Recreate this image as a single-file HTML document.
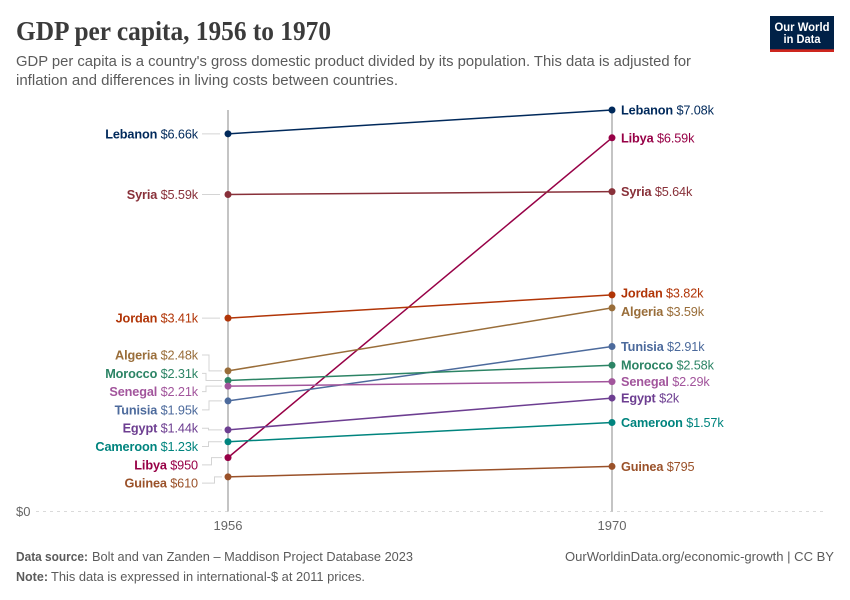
<!DOCTYPE html>
<html lang="en">
<head>
<meta charset="utf-8">
<title>GDP per capita, 1956 to 1970</title>
<style>
html,body{margin:0;padding:0;background:#fff}
svg{display:block}
text{font-family:"Liberation Sans",Arial,sans-serif}
.title{font-family:"Liberation Serif","Times New Roman",serif;font-weight:700;font-size:27px;fill:#3b3b3b}
.sub{font-size:14.5px;fill:#5b5b5b}
.foot{font-size:12.5px;fill:#5b5b5b}
.tick{font-size:13px;fill:#666}
.lab{font-size:12.7px;letter-spacing:-.12px}
</style>
</head>
<body>
<svg id="chart" xmlns="http://www.w3.org/2000/svg" width="850" height="600" viewBox="0 0 850 600">
  <rect width="850" height="600" fill="#fff"/>
  <text class="title" x="16" y="40" textLength="315" lengthAdjust="spacingAndGlyphs">GDP per capita, 1956 to 1970</text>
  <text class="sub" x="16" y="66" textLength="675" lengthAdjust="spacingAndGlyphs">GDP per capita is a country's gross domestic product divided by its population. This data is adjusted for</text>
  <text class="sub" x="16" y="85" textLength="382" lengthAdjust="spacingAndGlyphs">inflation and differences in living costs between countries.</text>
  <g>
    <rect x="770" y="16" width="64" height="36" fill="#002147"/>
    <rect x="770" y="49.3" width="64" height="2.7" fill="#ce261e"/>
    <text x="802" y="31" text-anchor="middle" font-size="11.5" font-weight="700" fill="#fff" textLength="55" lengthAdjust="spacingAndGlyphs">Our World</text>
    <text x="802" y="43" text-anchor="middle" font-size="11.5" font-weight="700" fill="#fff" textLength="37" lengthAdjust="spacingAndGlyphs">in Data</text>
  </g>
  <g id="plot"></g>
  <text class="foot" x="16" y="561" font-weight="700" textLength="72" lengthAdjust="spacingAndGlyphs">Data source:</text>
  <text class="foot" x="92" y="561" textLength="321" lengthAdjust="spacingAndGlyphs">Bolt and van Zanden – Maddison Project Database 2023</text>
  <text class="foot" x="565" y="561" textLength="269" lengthAdjust="spacingAndGlyphs">OurWorldinData.org/economic-growth | CC BY</text>
  <text class="foot" x="16" y="581" font-weight="700" textLength="32" lengthAdjust="spacingAndGlyphs">Note:</text>
  <text class="foot" x="51" y="581" textLength="314" lengthAdjust="spacingAndGlyphs">This data is expressed in international-$ at 2011 prices.</text>
</svg>
<script>
const years = [1956, 1970];
const countries = ["Lebanon","Libya","Syria","Jordan","Algeria","Tunisia","Morocco","Senegal","Egypt","Cameroon","Guinea"];
const valuesStart = [6660, 950, 5590, 3410, 2480, 1950, 2310, 2210, 1440, 1230, 610];
const valuesEnd = [7080, 6590, 5640, 3820, 3590, 2910, 2580, 2290, 2000, 1570, 795];
const seriesColors = ["#00295b","#970046","#883039","#b13507","#996d39","#4c6a9c","#2c8465","#a2559c","#6d3e91","#00847e","#9a5129"];
const yMaxValue = 7080;
const yTickLabel = "$0";

const NS = "http://www.w3.org/2000/svg";
const plot = document.getElementById("plot");
const xScale = y => 228 + (y - years[0]) / (years[1] - years[0]) * 384;
const yScale = v => 511.5 - v / yMaxValue * 401.5;
function make(tag, attrs, parent) {
  const el = document.createElementNS(NS, tag);
  for (const k in attrs) el.setAttribute(k, attrs[k]);
  (parent || plot).appendChild(el);
  return el;
}
function money(v) {
  if (v < 1000) return "$" + Math.round(v);
  return "$" + String(+(v / 1000).toFixed(2)) + "k";
}
function slug(s) { return s.toLowerCase(); }

/* Resolve label collisions: merge close labels in groups and spread them. */
function placeLabels(values) {
  const minGap = 16, spread = 18.3;
  let groups = values.map((v, i) => ({ items: [i], pts: [yScale(v)] }))
    .sort((a, b) => a.pts[0] - b.pts[0]);
  const layout = g => {
    const mean = g.pts.reduce((a, b) => a + b, 0) / g.pts.length + (g.pts.length > 1 ? 1 : 0);
    g.top = mean - (g.pts.length - 1) * spread / 2;
    g.bottom = mean + (g.pts.length - 1) * spread / 2;
  };
  groups.forEach(layout);
  let merged = true;
  while (merged) {
    merged = false;
    for (let i = 0; i < groups.length - 1; i++) {
      if (groups[i + 1].top - groups[i].bottom < minGap) {
        groups[i].items = groups[i].items.concat(groups[i + 1].items);
        groups[i].pts = groups[i].pts.concat(groups[i + 1].pts);
        layout(groups[i]);
        groups.splice(i + 1, 1);
        merged = true;
        break;
      }
    }
  }
  const out = [];
  groups.forEach(g => g.items.forEach((idx, k) => {
    out[idx] = { y: g.top + k * spread, grouped: g.items.length > 1, group: g, order: k };
  }));
  return out;
}

/* x-axis baseline */
const zeroLine = make("line", { x1: 36, x2: 825, y1: yScale(0), y2: yScale(0), stroke: "#dadada", "stroke-width": 1, "stroke-dasharray": "3 4" });


const zeroLabel = make("text", { class: "tick", x: 16, y: yScale(0) + 4.5 });
zeroLabel.textContent = yTickLabel;



/* vertical year axes */
years.forEach(yr => {
  const axis = make("line", { x1: xScale(yr), x2: xScale(yr), y1: yScale(yMaxValue), y2: yScale(0), stroke: "#b0b0b0", "stroke-width": 1.5 });
  
  
  const t = make("text", { class: "tick", x: xScale(yr), y: 530, "text-anchor": "middle" });
  t.textContent = yr;
  
  
});

const leftPos = placeLabels(valuesStart);
const rightPos = placeLabels(valuesEnd);

/* connector lines between left labels and their points */
const leftOrder = countries.map((c, i) => i).sort((a, b) => yScale(valuesStart[a]) - yScale(valuesStart[b]));
let run = -1, prevDir = 0;
const runs = [];
let prevGroup = null;
leftOrder.forEach(i => {
  const pos = leftPos[i];
  const dir = pos.y - yScale(valuesStart[i]) > 0 ? 1 : -1;
  if (pos.group !== prevGroup || dir !== prevDir) {
    run = pos.group !== prevGroup ? 0 : run + 1;
    runs.push([]);
  }
  runs[runs.length - 1].push({ i, run, dir });
  prevDir = dir;
  prevGroup = pos.group;
});
runs.forEach(r => r.forEach((item, k) => {
  const idx = item.dir < 0 ? r.length - 1 - k : k;
  const vx = 206 + (item.run >= 2 ? 2.5 : 0) + 3 * idx;
  const ly = leftPos[item.i].y, py = yScale(valuesStart[item.i]);
  const d = leftPos[item.i].grouped
    ? `M202 ${ly}H${vx}V${py}H222`
    : `M202 ${py}H220`;
  const conn = make("path", { d, fill: "none", stroke: "#d4d4d4", "stroke-width": 1 });
  
  
}));

/* series */
countries.forEach((name, i) => {
  const color = seriesColors[i];
  const x0 = xScale(years[0]), x1 = xScale(years[1]);
  const y0 = yScale(valuesStart[i]), y1 = yScale(valuesEnd[i]);
  const line = make("line", { x1: x0, y1: y0, x2: x1, y2: y1, stroke: color, "stroke-width": 1.5 });
  
  
  const d0 = make("circle", { cx: x0, cy: y0, r: 3.5, fill: color });
  
  
  const d1 = make("circle", { cx: x1, cy: y1, r: 3.5, fill: color });
  
  

  const lt = make("text", { class: "lab", x: 198, y: leftPos[i].y + 4.5, "text-anchor": "end", fill: color });
  
  
  const ln = make("tspan", { "font-weight": 700 }, lt);
  ln.textContent = name + " ";
  const lv = make("tspan", {}, lt);
  lv.textContent = money(valuesStart[i]);

  const rt = make("text", { class: "lab", x: 621, y: rightPos[i].y + 4.5, fill: color });
  
  
  const rn = make("tspan", { "font-weight": 700 }, rt);
  rn.textContent = name + " ";
  const rv = make("tspan", {}, rt);
  rv.textContent = money(valuesEnd[i]);
});
</script>
</body>
</html>
